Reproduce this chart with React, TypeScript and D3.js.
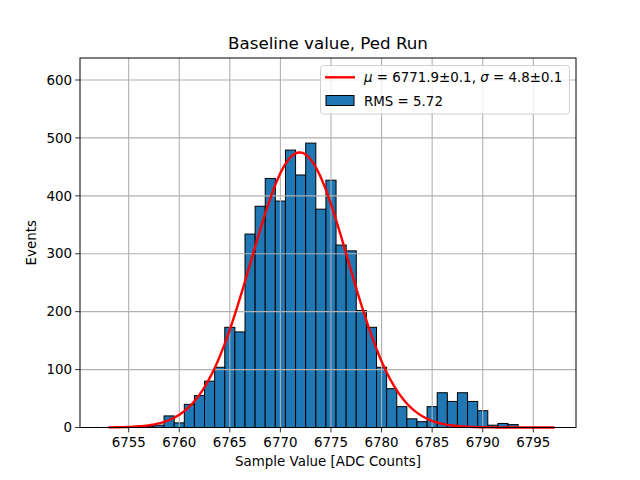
import * as React from "react"
import * as d3 from "d3"

// histogram bins (bin centres, width 1 ADC count)
const binCenters: number[] = [
    6755, 6756, 6757, 6758, 6759, 6760, 6761, 6762, 6763, 6764,
    6765, 6766, 6767, 6768, 6769, 6770, 6771, 6772, 6773, 6774,
    6775, 6776, 6777, 6778, 6779, 6780, 6781, 6782, 6783, 6784,
    6785, 6786, 6787, 6788, 6789, 6790, 6791, 6792, 6793,
]
const counts: number[] = [
    1, 2, 2, 4, 20, 8, 40, 55, 80, 104,
    173, 165, 334, 382, 430, 391, 479, 436, 491, 377,
    427, 315, 305, 202, 173, 104, 67, 36, 15, 10,
    36, 60, 45, 60, 45, 29, 4, 7, 5,
]

// gaussian fit shown in the legend
const fitMu = 6771.9
const fitSigma = 4.8
const fitAmp = 475
const fitRange: [number, number] = [6753, 6797.1]

const xTicks: number[] = [6755, 6760, 6765, 6770, 6775, 6780, 6785, 6790, 6795]
const yTicks: number[] = [0, 100, 200, 300, 400, 500, 600]

const margin = { top: 58, right: 64, bottom: 52.5, left: 80 }
const W = 640
const H = 480
const font = "'DejaVu Sans', sans-serif"

export default function App(): JSX.Element {
    const innerW = W - margin.left - margin.right
    const innerH = H - margin.top - margin.bottom

    const x = d3.scaleLinear().domain([6750.19, 6799.22]).range([0, innerW])
    const y = d3.scaleLinear().domain([0, 638]).range([innerH, 0])

    const fitPts: [number, number][] = d3.range(0, 201).map((i) => {
        const xv = fitRange[0] + (fitRange[1] - fitRange[0]) * i / 200
        const z = (xv - fitMu) / fitSigma
        return [xv, fitAmp * Math.exp(-0.5 * z * z)]
    })
    const line = d3.line<[number, number]>()
        .x((d) => x(d[0]))
        .y((d) => y(d[1]))

    return (
        <svg width={W} height={H} style={{ position: "absolute", left: 0, top: 0, background: "#fff" }}
            fontFamily={font}>
            <text x={margin.left + innerW / 2} y={48.5} textAnchor="middle" fontSize={16.7}>
                Baseline value, Ped Run
            </text>
            <g transform={"translate(" + margin.left + "," + margin.top + ")"}>
                {/* bars */}
                {binCenters.map((c, i) => (
                    <rect key={c}
                        x={x(c - 0.5)}
                        y={y(counts[i])}
                        width={x(c + 0.5) - x(c - 0.5)}
                        height={innerH - y(counts[i])}
                        fill="#1f77b4" stroke="#000" strokeWidth={1} />
                ))}
                {/* grid */}
                {xTicks.map((t) => (
                    <line key={"gx" + t} x1={x(t)} x2={x(t)} y1={0} y2={innerH}
                        stroke="#b0b0b0" strokeWidth={1.1} />
                ))}
                {yTicks.map((t) => (
                    <line key={"gy" + t} x1={0} x2={innerW} y1={y(t)} y2={y(t)}
                        stroke="#b0b0b0" strokeWidth={1.1} />
                ))}
                {/* fit */}
                <path d={line(fitPts) || ""} fill="none" stroke="red" strokeWidth={2.4} />
                {/* frame */}
                <rect x={0} y={0} width={innerW} height={innerH} fill="none" stroke="#000" strokeWidth={1} />
                {/* x axis */}
                {xTicks.map((t) => (
                    <g key={"tx" + t} transform={"translate(" + x(t) + "," + innerH + ")"}>
                        <line y1={0} y2={4.9} stroke="#000" strokeWidth={0.8} />
                        <text y={19} textAnchor="middle" fontSize={13.4}>{t}</text>
                    </g>
                ))}
                {yTicks.map((t) => (
                    <g key={"ty" + t} transform={"translate(0," + y(t) + ")"}>
                        <line x1={0} x2={-4.9} stroke="#000" strokeWidth={0.8} />
                        <text x={-8} dy="0.35em" textAnchor="end" fontSize={13.4}>{t}</text>
                    </g>
                ))}
                <text x={innerW / 2} y={innerH + 38.5} textAnchor="middle" fontSize={13.4}>
                    Sample Value [ADC Counts]
                </text>
                <text transform={"translate(-44," + innerH / 2 + ") rotate(-90)"} textAnchor="middle"
                    fontSize={13.4}>Events</text>
            </g>
            {/* legend */}
            <g>
                <rect x={320.5} y={65.5} width={249} height={48.5} rx={3} fill="#fff" fillOpacity={0.8}
                    stroke="#d0d0d0" strokeWidth={1} />
                <line x1={325} x2={355} y1={77.3} y2={77.3} stroke="red" strokeWidth={2.4} />
                <text x={364} y={82} fontSize={13.4}>
                    <tspan fontStyle="italic">μ</tspan> = 6771.9±0.1, <tspan fontStyle="italic">σ</tspan> = 4.8±0.1
                </text>
                <rect x={326} y={95.5} width={28} height={10} fill="#1f77b4" stroke="#000" strokeWidth={1} />
                <text x={364} y={105.5} fontSize={13.4}>RMS = 5.72</text>
            </g>
        </svg>
    )
}
